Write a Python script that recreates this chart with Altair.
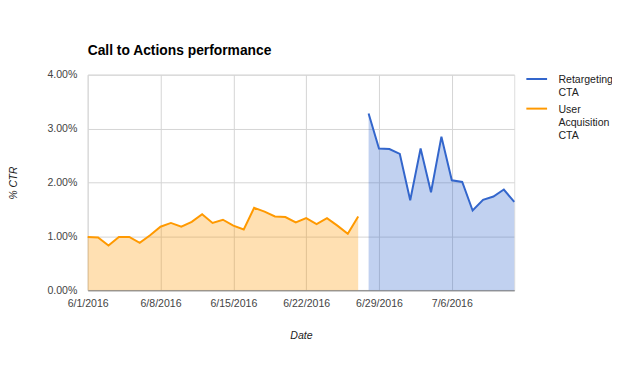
import altair as alt
import pandas as pd

# ---- data ----
ua_name = "User Acquisition CTA"
ua_dates = ["2016/06/01", "2016/06/02", "2016/06/03", "2016/06/04", "2016/06/05",
            "2016/06/06", "2016/06/07", "2016/06/08", "2016/06/09", "2016/06/10",
            "2016/06/11", "2016/06/12", "2016/06/13", "2016/06/14", "2016/06/15",
            "2016/06/16", "2016/06/17", "2016/06/18", "2016/06/19", "2016/06/20",
            "2016/06/21", "2016/06/22", "2016/06/23", "2016/06/24", "2016/06/25",
            "2016/06/26", "2016/06/27"]
ua_ctr = [0.99, 0.98, 0.83, 0.99, 0.99, 0.88, 1.02, 1.18, 1.25, 1.18,
          1.27, 1.41, 1.25, 1.31, 1.20, 1.13, 1.53, 1.46, 1.37, 1.36,
          1.26, 1.34, 1.23, 1.34, 1.20, 1.05, 1.37]

rt_name = "Retargeting CTA"
rt_dates = ["2016/06/28", "2016/06/29", "2016/06/30", "2016/07/01", "2016/07/02",
            "2016/07/03", "2016/07/04", "2016/07/05", "2016/07/06", "2016/07/07",
            "2016/07/08", "2016/07/09", "2016/07/10", "2016/07/11", "2016/07/12"]
rt_ctr = [3.28, 2.63, 2.62, 2.53, 1.67, 2.63, 1.82, 2.85, 2.04, 2.01,
          1.48, 1.68, 1.74, 1.87, 1.64]

series_names = [rt_name, ua_name]
series_colors = ["#3366cc", "#ff9900"]
y_ticks = [0, 0.01, 0.02, 0.03, 0.04]

rows = []
for d, v in zip(ua_dates, ua_ctr):
    rows.append({"date": d, "ctr": v / 100.0, "series": ua_name})
for d, v in zip(rt_dates, rt_ctr):
    rows.append({"date": d, "ctr": v / 100.0, "series": rt_name})
df = pd.DataFrame(rows)

FONT = "Liberation Sans"

x_enc = alt.X(
    "date:T",
    title="Date",
    scale=alt.Scale(domain=[alt.DateTime(year=2016, month=6, date=1),
                            alt.DateTime(year=2016, month=7, date=12)]),
    axis=alt.Axis(
        values=[alt.DateTime(year=2016, month=6, date=d) for d in (1, 8, 15, 22, 29)]
        + [alt.DateTime(year=2016, month=7, date=6)],
        format="%-m/%-d/%Y",
        grid=True, gridColor="#d4d4d4", ticks=False,
        domain=True, domainColor="#777777", domainWidth=1,
        labelFont=FONT, labelFontSize=10.7, labelColor="#444444", labelPadding=8,
        labelFlush=False,
        titleFont=FONT, titleFontSize=10.7, titleFontStyle="italic",
        titleFontWeight="normal", titleColor="#222222", titlePadding=23,
    ),
)
y_enc = alt.Y(
    "ctr:Q",
    title="% CTR",
    stack=None,
    scale=alt.Scale(domain=[0, 0.04], nice=False),
    axis=alt.Axis(
        values=y_ticks, format=".2%",
        grid=True, gridColor="#d4d4d4", ticks=False, domain=False,
        labelFont=FONT, labelFontSize=10.7, labelColor="#444444", labelPadding=11,
        titleFont=FONT, titleFontSize=10.4, titleFontStyle="italic",
        titleFontWeight="normal", titleColor="#222222", titlePadding=29,
    ),
)
color_enc = alt.Color(
    "series:N",
    scale=alt.Scale(domain=series_names, range=series_colors),
    legend=alt.Legend(
        title=None, orient="none", legendX=448.25, legendY=-6, padding=0,
        symbolType="M-2,0.74L2,0.74", symbolSize=110.25, symbolStrokeWidth=2,
        labelFont=FONT, labelFontSize=10.7, labelColor="#222222",
        labelExpr="split(datum.label, ' ')", labelBaseline="top",
        labelLimit=0, labelOffset=15.5, rowPadding=0,
    ),
)

base = alt.Chart(df).encode(x=x_enc, y=y_enc, color=color_enc)
area = base.mark_area(fillOpacity=0.3)
line = base.mark_line(strokeWidth=2)

chart = (
    alt.layer(area, line)
    .properties(
        width=432, height=218.4,
        title=alt.TitleParams(
            "Call to Actions performance", anchor="start", frame="group", font=FONT,
            fontSize=14, fontWeight="bold", color="#000000", offset=11,
        ),
        autosize=alt.AutoSizeParams(type="none"),
        padding={"left": 80.7, "top": 65.3, "right": 99, "bottom": 66},
    )
    .configure_view(stroke=None)
    .configure(background="white", style={"guide-label": {"lineHeight": 13.3}})
)

chart.save("out.html", embed_options={"renderer": "svg", "actions": False})
